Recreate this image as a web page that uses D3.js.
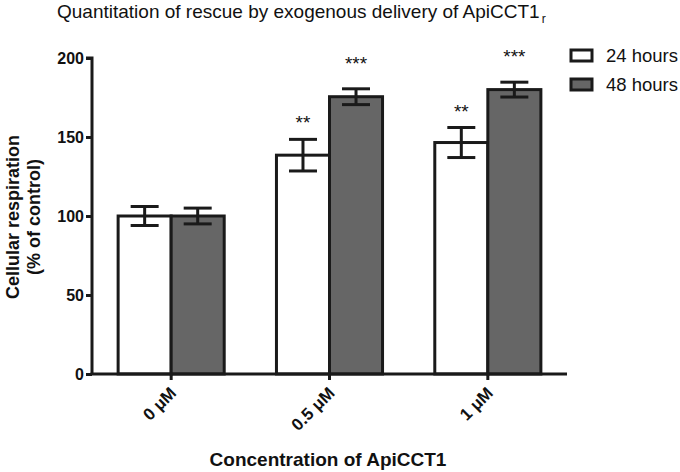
<!DOCTYPE html>
<html><head><meta charset="utf-8">
<script src="https://cdn.jsdelivr.net/npm/d3@7"></script>
<style>body{margin:0;background:#fff}svg{display:block;font-family:"Liberation Sans",Arial,sans-serif}</style>
</head><body><div id="chart"></div>
<script>
const categories = ["0 \u03bcM", "0.5 \u03bcM", "1 \u03bcM"];
const seriesNames = ["24 hours", "48 hours"];
const values24 = [100, 138.5, 146.5];
const errors24 = [6, 10, 9.5];
const values48 = [100, 175.5, 180];
const errors48 = [5, 5, 4.7];
const stars24 = ["", "**", "**"];
const stars48 = ["", "***", "***"];
const yTicks = [0, 50, 100, 150, 200];
const seriesColors = ["#ffffff", "#666666"];

const W = 680, H = 472;
const svg = d3.select("#chart").append("svg").attr("width", W).attr("height", H);
const x0 = 92, x1 = 567, yTop = 58, yBot = 374;

const x = d3.scaleBand().domain(categories).range([x0, x1]).paddingInner(0.33).paddingOuter(0.165);
const y = d3.scaleLinear().domain([0, 200]).range([yBot, yTop]);
const xs = d3.scaleBand().domain([0, 1]).range([0, x.bandwidth()]);

const data = categories.map((c, i) => [
  {cat: c, s: 0, v: values24[i], e: errors24[i], star: stars24[i]},
  {cat: c, s: 1, v: values48[i], e: errors48[i], star: stars48[i]}
]).flat();

const sw = 3;
// bars
svg.append("g").selectAll("rect").data(data).join("rect")
  .attr("x", d => x(d.cat) + xs(d.s))
  .attr("y", d => y(d.v))
  .attr("width", xs.bandwidth())
  .attr("height", d => y(0) - y(d.v))
  .attr("fill", d => seriesColors[d.s])
  .attr("stroke", "#1a1a1a").attr("stroke-width", sw);

// error bars
const eg = svg.append("g").attr("stroke", "#1a1a1a").attr("stroke-width", sw);
data.forEach(d => {
  const cx = x(d.cat) + xs(d.s) + xs.bandwidth() / 2;
  const cap = 14;
  eg.append("line").attr("x1", cx).attr("x2", cx).attr("y1", y(d.v + d.e)).attr("y2", y(d.v - d.e));
  eg.append("line").attr("x1", cx - cap).attr("x2", cx + cap).attr("y1", y(d.v + d.e)).attr("y2", y(d.v + d.e));
  eg.append("line").attr("x1", cx - cap).attr("x2", cx + cap).attr("y1", y(d.v - d.e)).attr("y2", y(d.v - d.e));
  if (d.star) {
    svg.append("text").attr("x", cx).attr("y", y(d.v + d.e) - (d.s === 0 ? 10 : 19))
      .attr("text-anchor", "middle").attr("font-size", 19).attr("fill", "#111").text(d.star);
  }
});

// y axis
const ya = svg.append("g").attr("transform", `translate(${x0},0)`)
  .call(d3.axisLeft(y).tickValues(yTicks).tickSize(6).tickPadding(2));
ya.select(".domain").attr("stroke", "#1a1a1a").attr("stroke-width", sw).attr("d", `M-6,${yTop}H0V${yBot}`);
ya.selectAll(".tick line").attr("stroke", "#1a1a1a").attr("stroke-width", sw);
ya.selectAll(".tick text").attr("font-size", 16).attr("font-weight", "bold").attr("fill", "#111")
  .attr("font-family", "Liberation Sans, Arial, sans-serif");

// x axis
const xa = svg.append("g").attr("transform", `translate(0,${yBot})`)
  .call(d3.axisBottom(x).tickSize(6).tickSizeOuter(0));
xa.select(".domain").attr("stroke", "#1a1a1a").attr("stroke-width", sw).attr("d", `M${x0 - 1.5},0H${x1}`);
xa.selectAll(".tick line").attr("stroke", "#1a1a1a").attr("stroke-width", sw);
xa.selectAll(".tick text").attr("font-size", 17).attr("font-weight", "bold").attr("fill", "#111")
  .attr("font-family", "Liberation Sans, Arial, sans-serif")
  .attr("text-anchor", "end").attr("dy", "0.35em")
  .attr("transform", "translate(2,16) rotate(-45)").attr("x", 0).attr("y", 0);

// title
const t = svg.append("text").attr("x", 57).attr("y", 18).attr("font-size", 19).attr("fill", "#111");
t.append("tspan").text("Quantitation of rescue by exogenous delivery of ApiCCT1");
t.append("tspan").attr("font-size", 12).attr("dy", 5).attr("dx", 2).text("r");

// y label
const yl = svg.append("text").attr("transform", "translate(0,217) rotate(-90)")
  .attr("text-anchor", "middle").attr("font-size", 18).attr("font-weight", "bold").attr("fill", "#111");
yl.append("tspan").attr("x", 0).attr("y", 19).text("Cellular respiration");
yl.append("tspan").attr("x", 0).attr("y", 40).text("(% of control)");

// x label
svg.append("text").attr("x", 328).attr("y", 466).attr("text-anchor", "middle")
  .attr("font-size", 19).attr("font-weight", "bold").attr("fill", "#111").text("Concentration of ApiCCT1");

// legend
const lg = svg.append("g");
seriesNames.forEach((n, i) => {
  const yy = 50 + i * 29;
  lg.append("rect").attr("x", 571).attr("y", yy).attr("width", 21).attr("height", 11)
    .attr("fill", seriesColors[i]).attr("stroke", "#1a1a1a").attr("stroke-width", sw);
  lg.append("text").attr("x", 606).attr("y", yy + 12).attr("font-size", 18.5).attr("fill", "#111").text(n);
});
</script></body></html>
